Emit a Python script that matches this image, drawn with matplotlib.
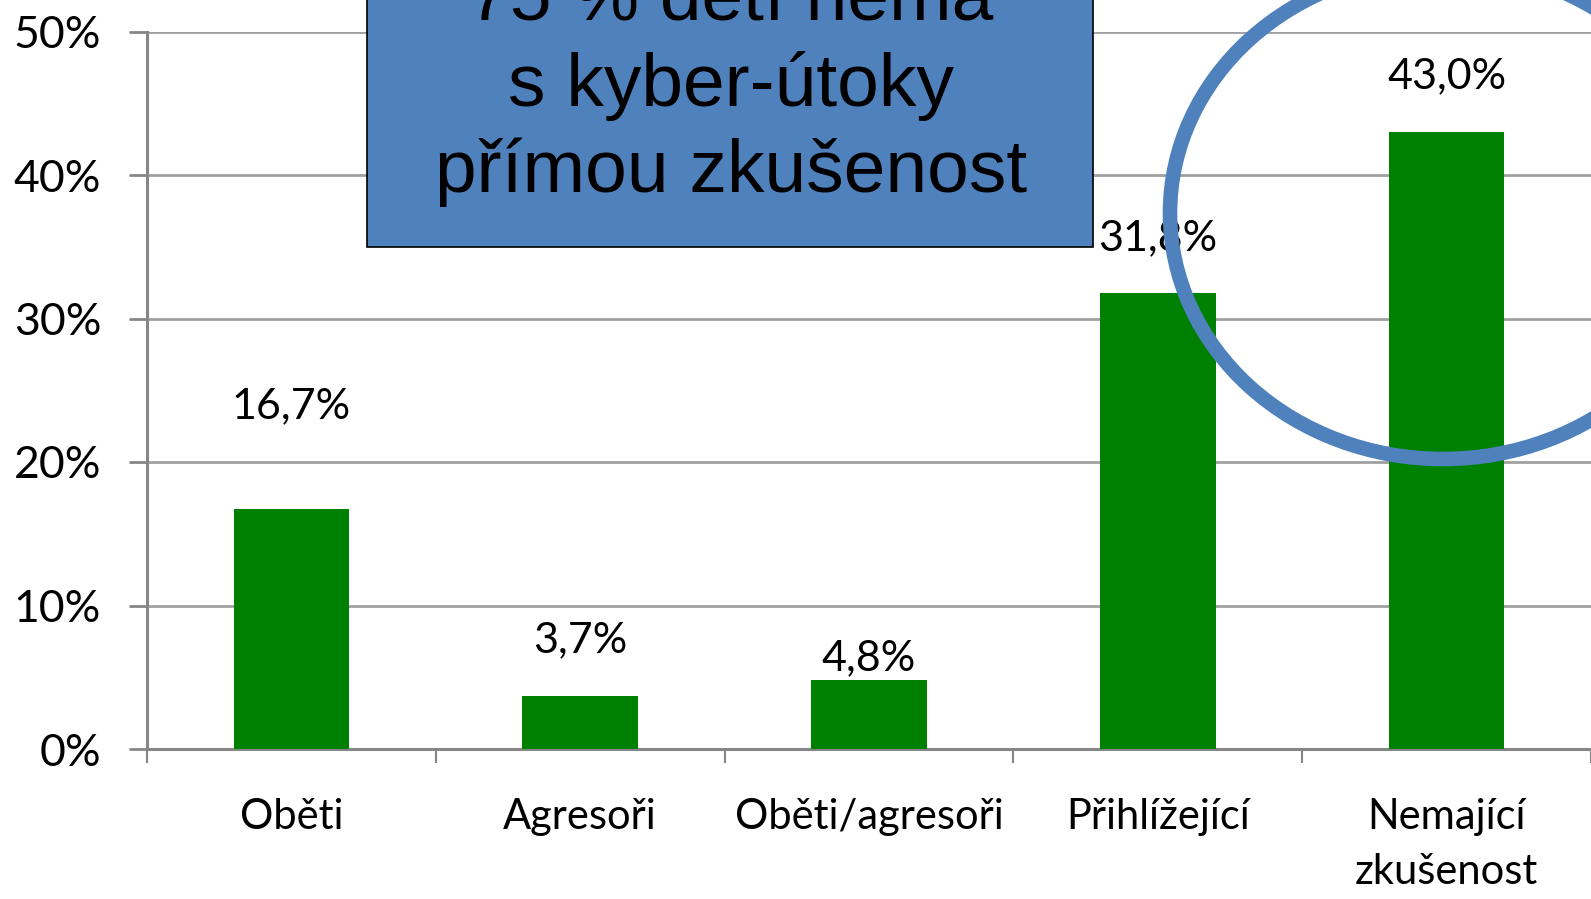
import numpy as np
import matplotlib.pyplot as plt
from matplotlib.patches import Rectangle, Ellipse

# data
categories = ["Oběti", "Agresoři", "Oběti/agresoři", "Přihlížející", "Nemající\nzkušenost"]
values = [0.167, 0.037, 0.048, 0.318, 0.430]
value_labels = ["16,7%", "3,7%", "4,8%", "31,8%", "43,0%"]
y_ticks = [0.0, 0.1, 0.2, 0.3, 0.4, 0.5]
y_tick_labels = ["0%", "10%", "20%", "30%", "40%", "50%"]
box_text = "75 % dětí nemá\ns kyber-útoky\npřímou zkušenost"

# label offsets above bar top (points), as placed in the original slide
label_offsets = [74, 40, 16, 39, 40]

W, H = 1591, 899
fig = plt.figure(figsize=(W / 100, H / 100), dpi=100)
ax = fig.add_axes([147 / W, 1 - 749 / H, 1 - 147 / W, (749 - 31.5) / H])

x = np.arange(len(categories))
ax.bar(x, values, width=0.4, color="#008000", zorder=3)

ax.set_xlim(-0.5, len(categories) - 0.5)
ax.set_ylim(0, 0.5)

grid_col = "#A0A0A0"
axis_col = "#868686"
ax.set_yticks(y_ticks)
ax.set_yticklabels(y_tick_labels)
ax.yaxis.grid(True, color=grid_col, linewidth=2.0, zorder=0)
ax.set_axisbelow(True)

ax.set_xticks(x)
ax.set_xticklabels(categories, linespacing=1.55)
ax.set_xticks(np.arange(len(categories) + 1) - 0.5, minor=True)
ax.tick_params(axis="x", which="major", length=0, pad=35)
ax.tick_params(axis="x", which="minor", length=10, width=1.5, color=axis_col, direction="out")
ax.tick_params(axis="y", length=13, width=2.0, color=axis_col, pad=20)

for s in ["top", "right"]:
    ax.spines[s].set_visible(False)
for s in ["left", "bottom"]:
    ax.spines[s].set_color(axis_col)
    ax.spines[s].set_linewidth(2.2)

for lab in ax.get_xticklabels():
    lab.set_fontfamily("Lato")
    lab.set_fontsize(30)
for lab in ax.get_yticklabels():
    lab.set_fontfamily("Lato")
    lab.set_fontsize(32)

for xi, v, t, off in zip(x, values, value_labels, label_offsets):
    ax.annotate(t, (xi, v), xytext=(0, off), textcoords="offset points",
                ha="center", va="center", fontsize=31, family="Lato", zorder=4)

# overlay in pixel coordinates for the callout box and the circle
ov = fig.add_axes([0, 0, 1, 1], zorder=10)
ov.set_xlim(0, W)
ov.set_ylim(H, 0)
ov.axis("off")
ov.patch.set_alpha(0)

ov.add_patch(Rectangle((367, -100), 1093 - 367, 247 + 100, facecolor="#4F81BD",
                       edgecolor="black", linewidth=1.2))
ov.text(731, 86, box_text, ha="center", va="center", fontsize=54,
        family="Liberation Sans", linespacing=1.3)

ov.add_patch(Ellipse((1443, 213), 546, 492, fill=False, edgecolor="#4F81BD", linewidth=10.5))

fig.savefig("out.png", dpi=100)
